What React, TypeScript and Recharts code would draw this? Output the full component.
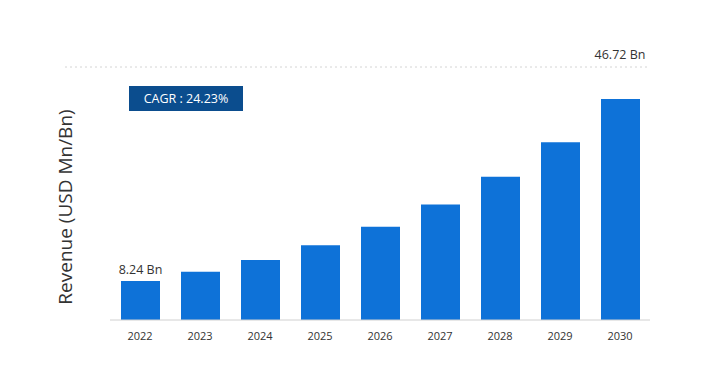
import React from 'react';
import { BarChart, Bar, XAxis, YAxis, ReferenceLine, ReferenceDot, LabelList } from 'recharts';

// Data for chart
const years = ['2022', '2023', '2024', '2025', '2026', '2027', '2028', '2029', '2030'];
const revenue = [8.24, 10.2, 12.7, 15.8, 19.7, 24.4, 30.3, 37.6, 46.72];
const valueLabels = ['8.24 Bn', '', '', '', '', '', '', '', '46.72 Bn'];
const cagrText = 'CAGR : 24.23%';
const yAxisTitle = 'Revenue (USD Mn/Bn)';
const Y_MAX = 53.5;

const chartData = years.map((year, i) => ({ year, value: revenue[i] }));

const FONT = '"Open Sans", "Noto Sans", sans-serif';

// dotted guide line, extends a bit to the left of the plot
const DottedLine = (props: any) => {
  const { x1, x2, y1 } = props;
  return (
    <line x1={x1 - 45} x2={x2 - 3} y1={y1} y2={y1} stroke="#d4d4d4" strokeWidth={1} strokeDasharray="2 3" />
  );
};

const FirstLabel = (props: any) => {
  const { x, y, width, index } = props;
  if (index !== 0) return null;
  return (
    <text x={x + width / 2} y={y - 7} textAnchor="middle" fontSize={12.5} fill="#333" fontFamily={FONT}>
      {valueLabels[0]}
    </text>
  );
};

const RevenueChart: React.FC = () => {
  return (
    <div style={{ position: 'absolute', left: 0, top: 0, width: 703, height: 387, background: '#fff' }}>
      <BarChart
        width={703}
        height={387}
        data={chartData}
        margin={{ top: 67, right: 53, left: 110, bottom: 37 }}
        barCategoryGap={21}
      >
        <XAxis
          dataKey="year"
          height={30}
          tickLine={false}
          axisLine={{ stroke: '#d0d0d0' }}
          tick={{ fontSize: 11, fill: '#333', fontFamily: FONT }}
          tickMargin={6}
          interval={0}
        />
        <YAxis hide domain={[0, Y_MAX]} />
        <ReferenceLine y={Y_MAX} shape={DottedLine} ifOverflow="visible" />
        <ReferenceDot
          x={years[years.length - 1]}
          y={Y_MAX}
          r={0}
          ifOverflow="visible"
          label={{ value: valueLabels[valueLabels.length - 1], position: 'top', offset: 8, fontSize: 12.5, fill: '#333', fontFamily: FONT }}
        />
        <Bar dataKey="value" fill="#0e72d8" barSize={39} isAnimationActive={false}>
          <LabelList dataKey="value" content={FirstLabel} />
        </Bar>
      </BarChart>

      {/* y axis title */}
      <div
        style={{
          position: 'absolute',
          left: 65,
          top: 207,
          transform: 'translate(-50%, -50%) rotate(-90deg)',
          whiteSpace: 'nowrap',
          fontFamily: FONT,
          fontSize: 19,
          color: '#333',
        }}
      >
        {yAxisTitle}
      </div>

      {/* CAGR badge */}
      <div
        style={{
          position: 'absolute',
          left: 129,
          top: 86,
          width: 114,
          height: 25,
          background: '#0b4d8e',
          color: '#fff',
          fontFamily: FONT,
          fontSize: 12.5,
          lineHeight: '25px',
          textAlign: 'center',
        }}
      >
        {cagrText}
      </div>
    </div>
  );
};

export default function App() {
  return <RevenueChart />;
}
